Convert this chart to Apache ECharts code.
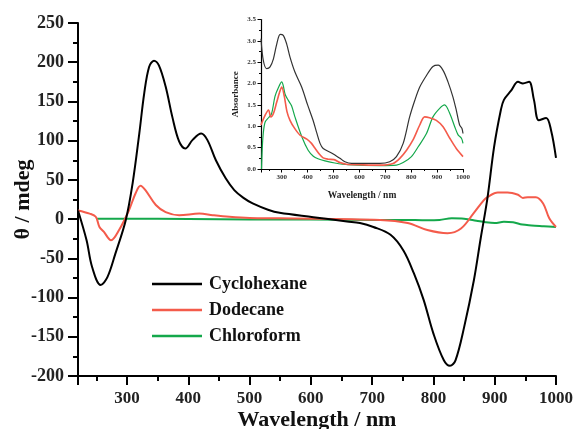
<!DOCTYPE html>
<html>
<head>
<meta charset="utf-8">
<script src="https://cdn.jsdelivr.net/npm/echarts@6/dist/echarts.min.js"></script>
<style>html,body{margin:0;padding:0;background:#fff}#c{width:574px;height:429px}</style>
</head>
<body>
<div id="c"></div>
<script>
// ---- Main CD spectra (θ / mdeg) ----
var cyclohexaneNm = [220,234,243,257,268,281,298,309,320,328,336,344,352,363,374,385,395,407,421,431,445,461,475,490,505,530,549,604,659,680,702,730,751,768,784,800,817,827,836,850,866,877,888,899,910,915,927,938,946,956,964,972,984,992,1000];
var cyclohexaneCD = [11,-27,-61,-84,-74,-44,-1,45,109,160,194,202,196,169,130,99,90,101,109,101,75,52,37,27,20,12,8,2.5,-3,-5,-10,-20,-40,-69,-103,-146,-180,-187,-180,-138,-78,-25,26,92,139,152,164,175,173,175,152,126,129,113,78];
var dodecaneNm = [220,239,249,255,262,274,287,303,314,322,330,347,363,385,418,440,467,500,549,713,758,790,823,845,866,882,888,905,921,938,946,954,967,979,989,1000];
var dodecaneCD = [11,7,3,-10,-16,-27,-14,11,33,42.5,37,18,9,5,7,5,3,1.5,1,-1,-5,-14,-18,-12,8,24,28,34,34,31,27,28,28,20,1,-10];
var chloroformNm = [250,300,400,500,600,700,750,790,810,830,850,870,885,900,915,930,945,960,980,1000];
var chloroformCD = [0.5,0.5,0,-0.5,-0.5,-1,-1,-1.5,-1,1,0.5,-2,-4,-5,-3.5,-4,-7,-8,-9,-10];

// ---- Inset absorbance spectra ----
var absCycloNm = [220,229,242,255,268,281,294,306,319,332,351,377,400,421,435,448,460,494,525,544,570,615,679,717,743,769,794,814,833,859,884,904,923,942,961,974,987,996,1000];
var absCyclo = [3.05,2.54,2.35,2.39,2.58,2.93,3.15,3.13,2.93,2.62,2.27,1.92,1.5,1.14,0.85,0.6,0.48,0.37,0.25,0.17,0.13,0.13,0.13,0.17,0.29,0.6,1.22,1.61,1.92,2.19,2.40,2.43,2.31,2.04,1.69,1.38,1.03,0.95,0.83];
var absDodeNm = [220,236,249,258,268,280,292,300,310,320,332,350,371,397,415,428,445,460,479,502,525,550,600,679,730,756,782,807,833,852,871,897,923,949,974,1000];
var absDode = [1.03,1.26,1.38,1.22,1.3,1.55,1.8,1.92,1.7,1.35,1.14,0.95,0.79,0.7,0.6,0.49,0.35,0.26,0.23,0.22,0.15,0.11,0.1,0.09,0.13,0.25,0.44,0.68,1.03,1.22,1.2,1.14,0.99,0.72,0.48,0.29];
var absChloNm = [222,225,229,236,249,261,274,287,300,306,313,326,338,351,378,402,422,440,467,505,556,679,743,769,801,827,859,884,910,929,949,968,981,994,1000];
var absChlo = [0,0.5,0.85,1.1,1.2,1.3,1.7,1.9,2.04,1.95,1.75,1.6,1.48,1.22,0.75,0.44,0.3,0.24,0.19,0.14,0.1,0.08,0.09,0.15,0.29,0.52,0.83,1.22,1.42,1.5,1.3,0.99,0.8,0.72,0.6];

// ---- Tick labels ----
var xTickStep = 100;      // labelled x ticks: 300 ... 1000
var seriesNames = ['Cyclohexane','Dodecane','Chloroform'];
var colors = ['#000000','#f45b4b','#14a84b'];

function pairs(xs, ys){ return xs.map(function(x,i){ return [x, ys[i]]; }); }

var FONT = 'Liberation Serif';
function xLabel(v){ return (v % xTickStep === 0) ? String(v) : ''; }

var chart = echarts.init(document.getElementById('c'), null, {renderer:'canvas'});
var option = {
  backgroundColor:'#fff',
  animation:false,
  grid:[
    {left:78, top:23, width:478, height:353, containLabel:false, outerBoundsMode:'none'},
    {left:261, top:19.5, width:202, height:149.5, containLabel:false, outerBoundsMode:'none'}
  ],
  legend:{
    data: seriesNames,
    orient:'vertical',
    left:147, top:270,
    icon:'rect',
    itemWidth:50, itemHeight:2.5, itemGap:8,
    textStyle:{fontFamily:FONT, fontWeight:'bold', fontSize:18, color:'#111', padding:[0,0,0,2]}
  },
  xAxis:[
    {gridIndex:0, type:'value', min:220, max:1000, splitNumber:16,
     name:'Wavelength / nm', nameLocation:'middle', nameGap:33, nameMoveOverlap:false,
     nameTextStyle:{fontFamily:FONT, fontWeight:'bold', fontSize:22, color:'#111'},
     axisLine:{onZero:false, lineStyle:{color:'#000', width:2}},
     axisTick:{show:true, length:5, lineStyle:{width:2,color:'#000'}},
     axisLabel:{formatter:xLabel, showMinLabel:false, margin:14, fontFamily:FONT, fontWeight:'bold', fontSize:17, color:'#222'},
     splitLine:{show:false}},
    {gridIndex:0, type:'value', min:220, max:1000, splitNumber:8, position:'bottom',
     axisLine:{show:false, onZero:false},
     axisTick:{show:true, length:9, lineStyle:{width:2,color:'#000'}},
     axisLabel:{show:false}, splitLine:{show:false}},
    {gridIndex:1, type:'value', min:220, max:1000, splitNumber:16,
     name:'Wavelength / nm', nameLocation:'middle', nameGap:22, nameMoveOverlap:false,
     nameTextStyle:{fontFamily:FONT, fontWeight:'bold', fontSize:9.5, color:'#222'},
     axisLine:{onZero:false, lineStyle:{color:'#000', width:1.2}},
     axisTick:{show:true, length:2, lineStyle:{width:1,color:'#000'}},
     axisLabel:{formatter:xLabel, showMinLabel:false, margin:5, fontFamily:FONT, fontWeight:'bold', fontSize:7, color:'#333'},
     splitLine:{show:false}},
    {gridIndex:1, type:'value', min:220, max:1000, splitNumber:8, position:'bottom',
     axisLine:{show:false, onZero:false},
     axisTick:{show:true, length:3.5, lineStyle:{width:1,color:'#000'}},
     axisLabel:{show:false}, splitLine:{show:false}}
  ],
  yAxis:[
    {gridIndex:0, type:'value', min:-200, max:250, interval:50,
     name:'θ / mdeg', nameLocation:'middle', nameGap:44, nameRotate:90, nameMoveOverlap:false,
     nameTextStyle:{fontFamily:FONT, fontWeight:'bold', fontSize:22, color:'#111'},
     axisLine:{show:true, onZero:false, lineStyle:{color:'#000', width:2}},
     axisTick:{show:true, length:10, lineStyle:{width:2,color:'#000'}},
     minorTick:{show:true, splitNumber:2, length:5, lineStyle:{width:2,color:'#000'}},
     axisLabel:{margin:14, fontFamily:FONT, fontWeight:'bold', fontSize:18, color:'#222'},
     splitLine:{show:false}},
    {gridIndex:1, type:'value', min:0, max:3.5, interval:0.5,
     name:'Absorbance', nameLocation:'middle', nameGap:21, nameRotate:90, nameMoveOverlap:false,
     nameTextStyle:{fontFamily:FONT, fontWeight:'bold', fontSize:9, color:'#222'},
     axisLine:{show:true, onZero:false, lineStyle:{color:'#000', width:1.2}},
     axisTick:{show:true, length:3.5, lineStyle:{width:1,color:'#000'}},
     minorTick:{show:true, splitNumber:2, length:2, lineStyle:{width:1,color:'#000'}},
     axisLabel:{margin:5, fontFamily:FONT, fontWeight:'bold', fontSize:7, color:'#333',
       formatter:function(v){return v.toFixed(1);}},
     splitLine:{show:false}}
  ],
  series:[
    {name:seriesNames[0], type:'line', xAxisIndex:0, yAxisIndex:0, data:pairs(cyclohexaneNm,cyclohexaneCD), smooth:0.35, symbol:'none', lineStyle:{color:colors[0], width:2}, itemStyle:{color:colors[0]}, z:5},
    {name:seriesNames[1], type:'line', xAxisIndex:0, yAxisIndex:0, data:pairs(dodecaneNm,dodecaneCD), smooth:0.35, symbol:'none', lineStyle:{color:colors[1], width:2}, itemStyle:{color:colors[1]}, z:4},
    {name:seriesNames[2], type:'line', xAxisIndex:0, yAxisIndex:0, data:pairs(chloroformNm,chloroformCD), smooth:0.35, symbol:'none', lineStyle:{color:colors[2], width:2}, itemStyle:{color:colors[2]}, z:3},
    {name:seriesNames[0], type:'line', xAxisIndex:2, yAxisIndex:1, data:pairs(absCycloNm,absCyclo), smooth:0.3, symbol:'none', lineStyle:{color:'#333', width:1.2}, itemStyle:{color:colors[0]}, z:5},
    {name:seriesNames[1], type:'line', xAxisIndex:2, yAxisIndex:1, data:pairs(absDodeNm,absDode), smooth:0.3, symbol:'none', lineStyle:{color:colors[1], width:1.6}, itemStyle:{color:colors[1]}, z:4},
    {name:seriesNames[2], type:'line', xAxisIndex:2, yAxisIndex:1, data:pairs(absChloNm,absChlo), smooth:0.3, symbol:'none', lineStyle:{color:colors[2], width:1.2}, itemStyle:{color:colors[2]}, z:3}
  ]
};
chart.setOption(option);
</script>
</body>
</html>
